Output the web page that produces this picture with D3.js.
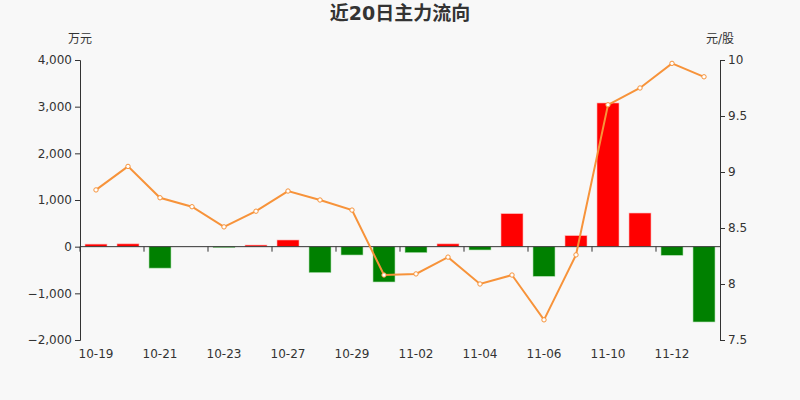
<!DOCTYPE html>
<html>
<head>
<meta charset="utf-8">
<script src="https://cdn.jsdelivr.net/npm/d3@7"></script>
<style>
  body { margin: 0; background: #f8f8f8; }
  text { font-family: "DejaVu Sans", "Noto Sans CJK SC", sans-serif; }
</style>
</head>
<body>
<script>
var dates = ['10-19','10-20','10-21','10-22','10-23','10-26','10-27','10-28','10-29','10-30',
             '11-02','11-03','11-04','11-05','11-06','11-09','11-10','11-11','11-12','11-13'];
var flows = [55, 60, -460, 0, -22, 35, 143, -557, -179, -757,
             -129, 60, -71, 707, -636, 236, 3079, 721, -186, -1614];
var prices = [8.84, 9.05, 8.77, 8.69, 8.51, 8.65, 8.83, 8.75, 8.66, 8.08,
              8.09, 8.24, 8.00, 8.08, 7.68, 8.26, 9.60, 9.75, 9.97, 9.85];
var leftTicks = [-2000, -1000, 0, 1000, 2000, 3000, 4000];
var rightTicks = [7.5, 8, 8.5, 9, 9.5, 10];

var w = 800, h = 400;
var margin = {top: 60, bottom: 60, left: 80, right: 80};
var width = w - margin.left - margin.right;
var height = h - margin.top - margin.bottom;

var svg = d3.select('body').append('svg')
  .attr('width', w)
  .attr('height', h);

svg.append('rect').attr('width', w).attr('height', h).attr('fill', '#f8f8f8');

svg.append('text')
  .attr('x', w / 2).attr('y', 20)
  .attr('text-anchor', 'middle')
  .attr('font-size', 19).attr('font-weight', 'bold')
  .attr('fill', '#333')
  .text('近20日主力流向');

var chart = svg.append('g')
  .attr('transform', 'translate(' + margin.left + ',' + margin.top + ')');

var x = d3.scaleBand().domain(dates).range([0, width]);
var yL = d3.scaleLinear().domain([-2000, 4000]).range([height, 0]);
var yR = d3.scaleLinear().domain([7.5, 10]).range([height, 0]);

// bars
var barW = 22;
chart.selectAll('.bar')
  .data(flows)
  .enter().append('rect')
  .attr('x', function(d, i){ return x(dates[i]) + (x.bandwidth() - barW) / 2; })
  .attr('y', function(d){ return d >= 0 ? yL(d) : yL(0); })
  .attr('width', barW)
  .attr('height', function(d){ return Math.abs(yL(d) - yL(0)); })
  .attr('fill', function(d){ return d >= 0 ? '#ff0000' : '#008000'; })
  .attr('stroke', function(d){ return d >= 0 ? '#ffb3b3' : '#b3e0b3'; })
  .attr('stroke-width', 0.6);

// left axis
var axL = chart.append('g')
  .call(d3.axisLeft(yL).tickValues(leftTicks).tickSize(5).tickFormat(d3.format(',')));
axL.select('.domain').attr('stroke', '#333');
axL.selectAll('.tick line').attr('stroke', '#333');
axL.selectAll('text').attr('font-size', 12).attr('fill', '#333').attr('font-family', 'DejaVu Sans');

// right axis
var axR = chart.append('g')
  .attr('transform', 'translate(' + width + ',0)')
  .call(d3.axisRight(yR).tickValues(rightTicks).tickSize(5).tickFormat(d3.format('')));
axR.select('.domain').attr('stroke', '#333');
axR.selectAll('.tick line').attr('stroke', '#333');
axR.selectAll('text').attr('font-size', 12).attr('fill', '#333').attr('font-family', 'DejaVu Sans');

// x axis at zero
var zeroY = yL(0);
chart.append('line')
  .attr('x1', 0).attr('x2', width)
  .attr('y1', zeroY).attr('y2', zeroY)
  .attr('stroke', '#333');
var tickIdx = d3.range(0, dates.length, 2);
chart.selectAll('.xtick')
  .data(tickIdx)
  .enter().append('line')
  .attr('x1', function(i){ return x(dates[i]); })
  .attr('x2', function(i){ return x(dates[i]); })
  .attr('y1', zeroY).attr('y2', zeroY + 5)
  .attr('stroke', '#333');
chart.selectAll('.xlabel')
  .data(tickIdx)
  .enter().append('text')
  .attr('x', function(i){ return x(dates[i]) + x.bandwidth() / 2; })
  .attr('y', height + 18)
  .attr('text-anchor', 'middle')
  .attr('font-size', 12).attr('fill', '#333')
  .text(function(i){ return dates[i]; });

// unit labels
svg.append('text')
  .attr('x', margin.left).attr('y', 43)
  .attr('text-anchor', 'middle').attr('font-size', 12).attr('fill', '#333')
  .text('万元');
svg.append('text')
  .attr('x', margin.left + width).attr('y', 43)
  .attr('text-anchor', 'middle').attr('font-size', 12).attr('fill', '#333')
  .text('元/股');

// price line
var line = d3.line()
  .x(function(d, i){ return x(dates[i]) + x.bandwidth() / 2; })
  .y(function(d){ return yR(d); });
chart.append('path')
  .datum(prices)
  .attr('d', line)
  .attr('fill', 'none')
  .attr('stroke', '#f7933a')
  .attr('stroke-width', 2);
chart.selectAll('.pt')
  .data(prices)
  .enter().append('circle')
  .attr('cx', function(d, i){ return x(dates[i]) + x.bandwidth() / 2; })
  .attr('cy', function(d){ return yR(d); })
  .attr('r', 2.2)
  .attr('fill', '#fff')
  .attr('stroke', '#f7933a')
  .attr('stroke-width', 1);
</script>
</body>
</html>
